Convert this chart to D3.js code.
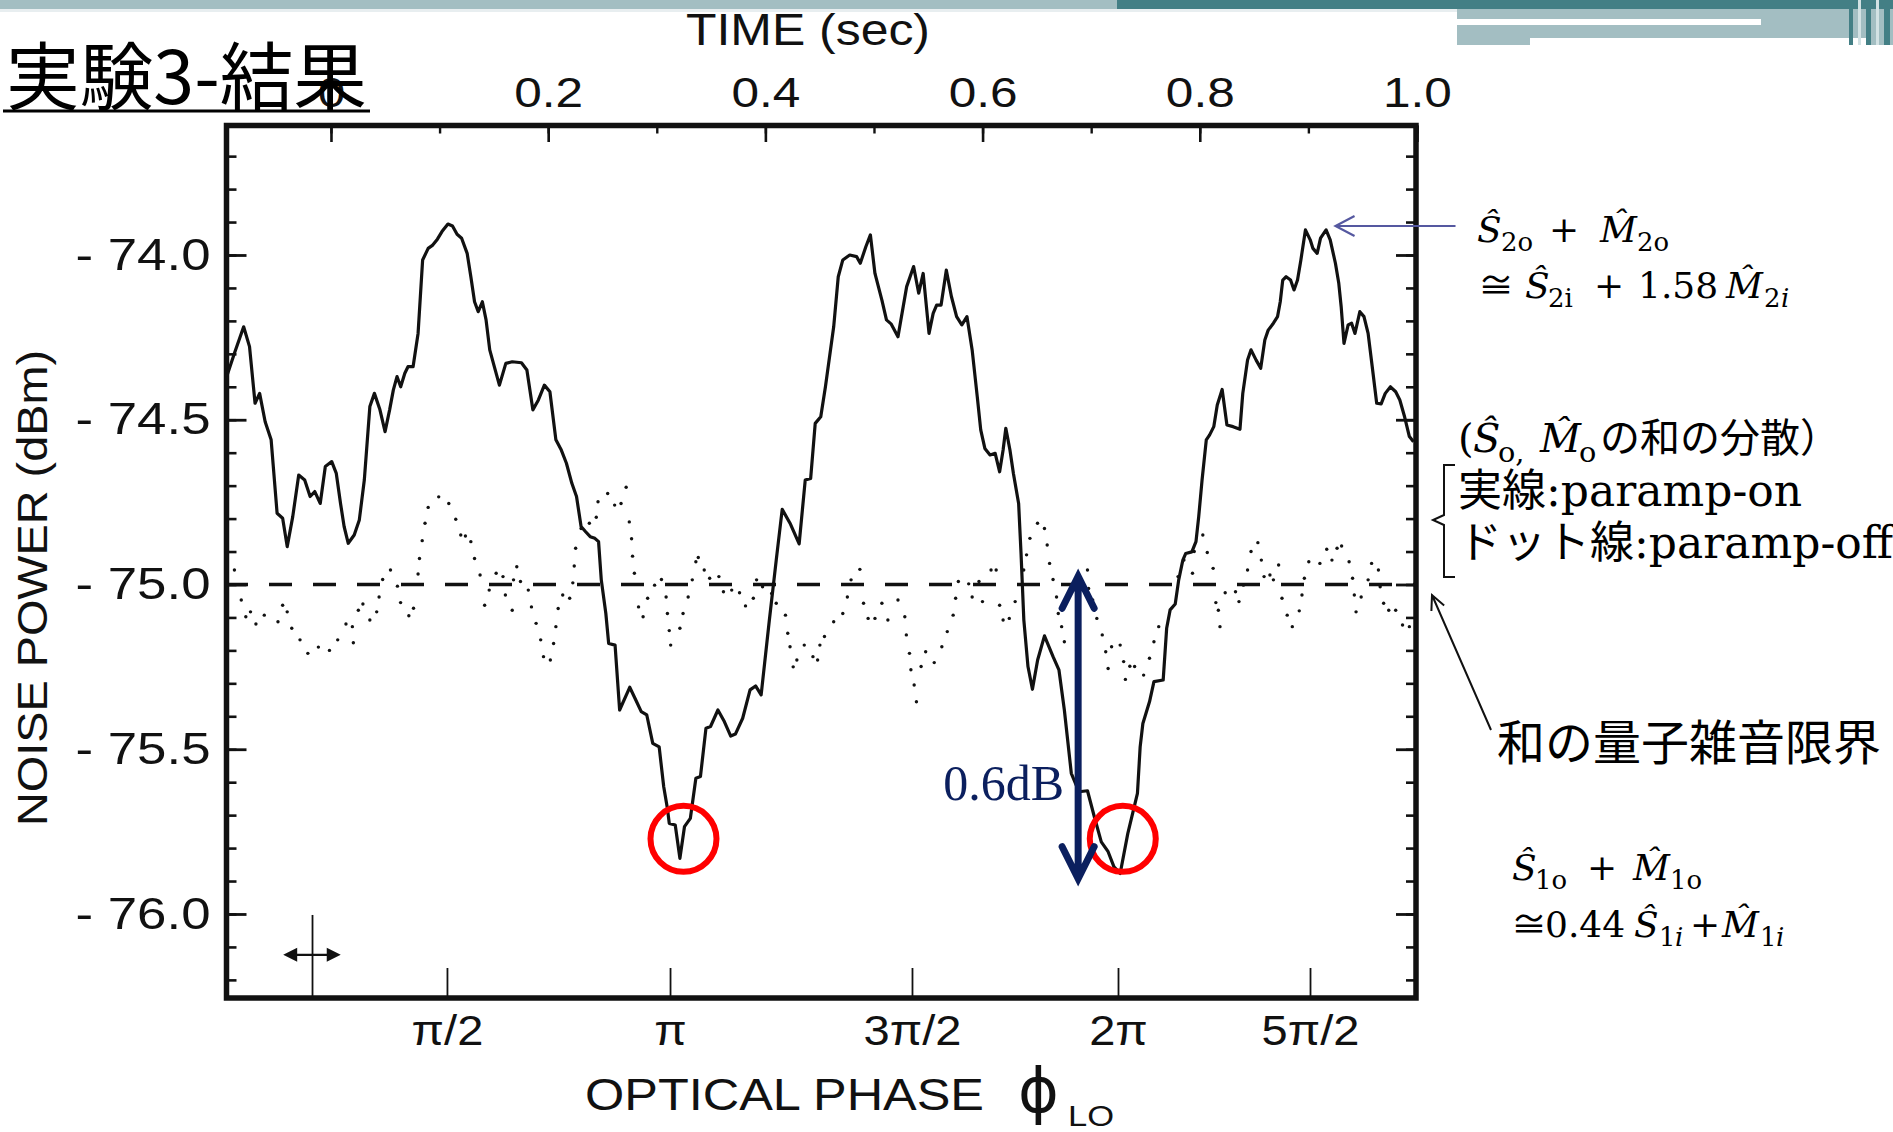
<!DOCTYPE html>
<html>
<head>
<meta charset="utf-8">
<script src="https://cdn.jsdelivr.net/npm/d3@7"></script>
<style>
html, body { margin: 0; padding: 0; background: #fff; overflow: hidden; }
svg { display: block; }
</style>
</head>
<body>
<div id="vizHolder"></div>
<script>
var width = 1893,
	height = 1132;

// ---- data ----
// TIME (sec) axis on top
var timeMajor = [0, 0.2, 0.4, 0.6, 0.8, 1.0];
var timeMinor = [0, 0.1, 0.2, 0.3, 0.4, 0.5, 0.6, 0.7, 0.8, 0.9, 1.0];
// NOISE POWER (dBm)
var powerMajor = [-76.0, -75.5, -75.0, -74.5, -74.0];
// OPTICAL PHASE axis at the bottom: label and the time where it falls
var phaseLabels = ['π/2', 'π', '3π/2', '2π', '5π/2'];
var phaseTickTime = [0.1068, 0.3122, 0.535, 0.7247, 0.9015];

// paramp-on (solid line)
var onTime = [-0.096,-0.0889,-0.0804,-0.0750,-0.0699,-0.0657,-0.0606,-0.0551,-0.0496,-0.0445,-0.0403,-0.0352,-0.0297,-0.0242,-0.0192,-0.0149,-0.0099,-0.0052,0.0007,0.0049,0.0088,0.0121,0.0159,0.0214,0.0261,0.0307,0.0358,0.0400,0.0451,0.0498,0.0540,0.0574,0.0608,0.0642,0.0680,0.0709,0.0756,0.0802,0.0844,0.0895,0.0937,0.0980,0.1022,0.1077,0.1119,0.1161,0.1203,0.1254,0.1288,0.1322,0.1356,0.1394,0.1428,0.1462,0.1504,0.1551,0.1610,0.1669,0.1754,0.1804,0.1859,0.1910,0.1965,0.2016,0.2071,0.2121,0.2168,0.2218,0.2261,0.2303,0.2345,0.2387,0.2430,0.2464,0.2489,0.2531,0.2557,0.2616,0.2658,0.2751,0.2810,0.2857,0.2908,0.2963,0.3022,0.3064,0.3098,0.3115,0.3170,0.3213,0.3255,0.3309,0.3360,0.3402,0.3453,0.3495,0.3563,0.3622,0.3681,0.3724,0.3791,0.3859,0.3910,0.3961,0.4037,0.4100,0.4155,0.4227,0.4311,0.4367,0.4417,0.4459,0.4510,0.4553,0.4629,0.4671,0.4713,0.4777,0.4840,0.4874,0.4925,0.4967,0.5009,0.5073,0.5115,0.5157,0.5221,0.5301,0.5365,0.5412,0.5453,0.5507,0.5545,0.5577,0.5618,0.5666,0.5713,0.5761,0.5809,0.5856,0.5904,0.5951,0.5983,0.6021,0.6069,0.6116,0.6157,0.6189,0.6214,0.6252,0.6284,0.6332,0.6354,0.6380,0.6418,0.6459,0.6507,0.6570,0.6649,0.6703,0.6753,0.6817,0.6887,0.6966,0.7029,0.7093,0.7156,0.7210,0.7267,0.7337,0.7426,0.7451,0.7476,0.7537,0.7578,0.7663,0.7695,0.7727,0.7774,0.7806,0.7844,0.7870,0.7927,0.7965,0.7990,0.8021,0.8060,0.8091,0.8129,0.8161,0.8206,0.8250,0.8307,0.8370,0.8396,0.8440,0.8472,0.8519,0.8561,0.8599,0.8630,0.8678,0.8716,0.8741,0.8764,0.8795,0.8836,0.8868,0.8900,0.8931,0.8973,0.9017,0.9042,0.9081,0.9112,0.9163,0.9201,0.9249,0.9280,0.9302,0.9328,0.9366,0.9398,0.9429,0.9474,0.9512,0.9550,0.9588,0.9629,0.9670,0.9708,0.9756,0.9804,0.9842,0.9886,0.9930,0.9968];
var onPower = [-74.369,-74.298,-74.218,-74.278,-74.450,-74.420,-74.506,-74.561,-74.784,-74.799,-74.885,-74.794,-74.668,-74.683,-74.733,-74.718,-74.754,-74.642,-74.627,-74.663,-74.754,-74.824,-74.875,-74.850,-74.804,-74.683,-74.460,-74.420,-74.470,-74.536,-74.470,-74.410,-74.369,-74.400,-74.359,-74.339,-74.339,-74.238,-74.015,-73.980,-73.970,-73.952,-73.929,-73.906,-73.912,-73.937,-73.949,-73.995,-74.066,-74.142,-74.172,-74.142,-74.197,-74.288,-74.339,-74.395,-74.329,-74.324,-74.327,-74.349,-74.470,-74.440,-74.395,-74.415,-74.561,-74.592,-74.632,-74.693,-74.733,-74.824,-74.840,-74.855,-74.860,-74.870,-74.986,-75.088,-75.179,-75.184,-75.381,-75.312,-75.353,-75.386,-75.396,-75.482,-75.493,-75.614,-75.680,-75.725,-75.730,-75.831,-75.735,-75.710,-75.588,-75.583,-75.436,-75.431,-75.381,-75.416,-75.460,-75.454,-75.406,-75.320,-75.308,-75.335,-75.107,-74.926,-74.772,-74.814,-74.877,-74.683,-74.678,-74.511,-74.491,-74.400,-74.218,-74.066,-74.015,-74.000,-74.005,-74.025,-73.975,-73.939,-74.056,-74.137,-74.197,-74.209,-74.248,-74.096,-74.035,-74.116,-74.056,-74.238,-74.177,-74.152,-74.152,-74.046,-74.126,-74.187,-74.212,-74.187,-74.288,-74.430,-74.531,-74.587,-74.607,-74.602,-74.658,-74.592,-74.526,-74.592,-74.663,-74.754,-74.905,-75.108,-75.249,-75.318,-75.229,-75.156,-75.219,-75.259,-75.381,-75.573,-75.629,-75.626,-75.705,-75.781,-75.811,-75.857,-75.877,-75.756,-75.634,-75.493,-75.422,-75.356,-75.295,-75.290,-75.133,-75.077,-75.059,-74.986,-74.926,-74.906,-74.901,-74.870,-74.795,-74.683,-74.561,-74.546,-74.521,-74.455,-74.408,-74.516,-74.521,-74.529,-74.420,-74.319,-74.288,-74.319,-74.344,-74.258,-74.228,-74.207,-74.187,-74.142,-74.076,-74.066,-74.076,-74.106,-74.076,-74.015,-73.924,-73.954,-73.980,-73.995,-73.949,-73.924,-73.954,-74.025,-74.086,-74.157,-74.268,-74.212,-74.207,-74.238,-74.172,-74.187,-74.238,-74.339,-74.450,-74.452,-74.420,-74.400,-74.415,-74.440,-74.491,-74.551,-74.567];

// paramp-off (dotted)
var offTime = [-0.0889,-0.0826,-0.0784,-0.0741,-0.0691,-0.0614,-0.0488,-0.0445,-0.0403,-0.0361,-0.0285,-0.0213,-0.0116,-0.0014,0.0062,0.0138,0.0197,0.0206,0.0252,0.0294,0.0358,0.0421,0.0443,0.0476,0.0548,0.0612,0.0641,0.0717,0.0760,0.0802,0.0815,0.0840,0.0866,0.0895,0.0992,0.1085,0.1149,0.1195,0.1238,0.1288,0.1322,0.1373,0.1415,0.1457,0.1521,0.1584,0.1606,0.1669,0.1681,0.1711,0.1745,0.1817,0.1846,0.1889,0.1931,0.1957,0.2020,0.2050,0.2071,0.2092,0.2134,0.2198,0.2227,0.2240,0.2253,0.2303,0.2379,0.2443,0.2459,0.2548,0.2612,0.2671,0.2718,0.2747,0.2768,0.2777,0.2794,0.2832,0.2874,0.2916,0.2980,0.3043,0.3086,0.3098,0.3115,0.3128,0.3213,0.3242,0.3289,0.3327,0.3360,0.3382,0.3437,0.3487,0.3572,0.3614,0.3690,0.3762,0.3817,0.3889,0.3919,0.3974,0.4058,0.4100,0.4185,0.4206,0.4227,0.4256,0.4290,0.4358,0.4438,0.4481,0.4502,0.4544,0.4629,0.4713,0.4755,0.4789,0.4870,0.4904,0.4946,0.5009,0.5073,0.5128,0.5221,0.5284,0.5298,0.5327,0.5340,0.5370,0.5391,0.5434,0.5476,0.5555,0.5625,0.5675,0.5729,0.5752,0.5777,0.5872,0.5904,0.5967,0.5999,0.6078,0.6125,0.6157,0.6189,0.6246,0.6300,0.6379,0.6405,0.6436,0.6506,0.6570,0.6595,0.6617,0.6649,0.6681,0.6697,0.6728,0.6753,0.6966,0.6976,0.7014,0.7052,0.7102,0.7134,0.7156,0.7188,0.7267,0.7299,0.7315,0.7356,0.7400,0.7483,0.7537,0.7578,0.7622,0.7800,0.7854,0.7933,0.7949,0.8028,0.8069,0.8123,0.8148,0.8171,0.8186,0.8234,0.8329,0.8361,0.8402,0.8440,0.8472,0.8535,0.8567,0.8592,0.8646,0.8678,0.8726,0.8757,0.8805,0.8852,0.8916,0.8941,0.8963,0.9004,0.9106,0.9169,0.9217,0.9264,0.9306,0.9375,0.9407,0.9423,0.9439,0.9486,0.9550,0.9582,0.9645,0.9661,0.9693,0.9740,0.9804,0.9867,0.9930];
var offPower = [-74.956,-75.047,-75.098,-75.083,-75.120,-75.093,-75.113,-75.063,-75.083,-75.133,-75.168,-75.209,-75.190,-75.200,-75.168,-75.120,-75.128,-75.177,-75.078,-75.059,-75.108,-75.083,-75.038,-74.985,-74.956,-75.005,-75.055,-75.095,-75.072,-74.968,-74.921,-74.867,-74.814,-74.766,-74.734,-74.754,-74.802,-74.850,-74.853,-74.870,-74.921,-74.971,-75.063,-75.017,-74.966,-74.976,-75.032,-75.078,-74.986,-74.946,-74.991,-75.017,-75.068,-75.118,-75.168,-75.219,-75.229,-75.179,-75.128,-75.073,-75.032,-75.042,-74.995,-74.944,-74.890,-74.830,-74.814,-74.796,-74.749,-74.724,-74.759,-74.754,-74.705,-74.810,-74.861,-74.914,-74.966,-75.068,-75.098,-75.042,-75.002,-74.985,-75.038,-75.088,-75.140,-75.184,-75.133,-75.088,-75.038,-74.986,-74.931,-74.918,-74.956,-74.981,-74.976,-75.022,-75.017,-75.025,-75.065,-75.042,-74.986,-75.007,-75.027,-75.057,-75.093,-75.148,-75.189,-75.250,-75.229,-75.184,-75.219,-75.229,-75.184,-75.158,-75.113,-75.088,-75.038,-74.986,-74.954,-75.057,-75.103,-75.103,-75.057,-75.108,-75.047,-75.098,-75.153,-75.209,-75.259,-75.305,-75.356,-75.249,-75.204,-75.237,-75.189,-75.143,-75.093,-75.042,-74.991,-74.998,-75.038,-74.991,-75.052,-74.956,-74.956,-75.063,-75.108,-75.103,-75.052,-74.956,-74.910,-74.860,-74.814,-74.830,-74.880,-74.936,-74.985,-75.038,-75.088,-75.128,-75.174,-74.956,-75.012,-75.047,-75.103,-75.153,-75.204,-75.255,-75.189,-75.184,-75.234,-75.288,-75.248,-75.249,-75.275,-75.224,-75.174,-75.128,-74.976,-74.926,-74.966,-74.900,-74.850,-74.903,-74.951,-75.055,-75.078,-75.128,-75.025,-75.022,-75.052,-75.002,-74.956,-74.900,-74.873,-74.926,-74.976,-74.971,-74.986,-74.941,-75.042,-75.093,-75.128,-75.080,-75.032,-74.981,-74.931,-74.936,-74.893,-74.926,-74.890,-74.883,-74.931,-74.981,-75.032,-75.083,-75.038,-74.986,-74.936,-74.956,-75.007,-75.057,-75.078,-75.078,-75.123,-75.128];

// quantum noise limit of the sum (dashed line)
var quantumLimit = -75.0;
// circled minima and the 0.6 dB arrow
var minimaTime = [0.3246, 0.7291];
var minimaPower = [-75.772, -75.772];
var arrowTime = 0.688;
var arrowPower = [-74.975, -75.893];
var arrowLabel = '0.6dB';
// scale marker in the lower left corner
var markerTime = [-0.044, -0.017, 0.009];
var markerPower = [-76.003, -76.124];

// ---- drawing ----
var plot = { left: 226.5, top: 125.5, right: 1416, bottom: 998 };
var ink = '#111';
var navy = '#0b1f5e';
var sansFont = '"Liberation Sans", Arial, sans-serif';
var serifFont = '"DejaVu Serif", "Noto Sans CJK JP", serif';

var xScale = d3.scaleLinear()
	.domain([-0.0962, 0.9991])
	.range([plot.left, plot.right]);

var yScale = d3.scaleLinear()
	.domain([-76.255, -73.607])
	.range([plot.bottom, plot.top]);

var svg = d3.select('#vizHolder')
	.append('svg')
	.attr('width', width)
	.attr('height', height);

// slide header band
var band = [
	{ x: 0, y: 0, w: 1117, h: 9, c: '#a3bec2' },
	{ x: 0, y: 9, w: 1457, h: 3, c: '#e8eef0' },
	{ x: 1117, y: 0, w: 776, h: 9, c: '#437f85' },
	{ x: 1457, y: 9, w: 436, h: 36, c: '#a3bec2' },
	{ x: 1457, y: 19, w: 304, h: 6, c: '#ffffff' },
	{ x: 1530, y: 38, w: 338, h: 8, c: '#ffffff' },
	{ x: 1849, y: 0, w: 4, h: 45, c: '#437f85' },
	{ x: 1858, y: 0, w: 3, h: 45, c: '#d3e2e4' },
	{ x: 1866, y: 0, w: 5, h: 45, c: '#437f85' },
	{ x: 1876, y: 0, w: 3, h: 45, c: '#d3e2e4' },
	{ x: 1884, y: 0, w: 6, h: 45, c: '#437f85' }
];
svg.append('g').selectAll('rect')
	.data(band)
	.enter()
	.append('rect')
	.attr('x', function(d) { return d.x; })
	.attr('y', function(d) { return d.y; })
	.attr('width', function(d) { return d.w; })
	.attr('height', function(d) { return d.h; })
	.attr('fill', function(d) { return d.c; });

function widen(sel, f) {
	sel.each(function() {
		var len = this.getComputedTextLength();
		d3.select(this).attr('textLength', len * f).attr('lengthAdjust', 'spacingAndGlyphs');
	});
}

function styleAxis(g, sw) {
	g.select('.domain').remove();
	g.selectAll('line').attr('stroke', ink).attr('stroke-width', sw);
	g.selectAll('text')
		.attr('fill', ink)
		.style('font-family', sansFont)
		.style('font-size', '42px');
}

// ticks only, no labels
function bareAxis(g, sw) {
	g.select('.domain').remove();
	g.selectAll('text').remove();
	g.selectAll('line').attr('stroke', ink).attr('stroke-width', sw);
}

// top: TIME (sec)
var topMinor = svg.append('g')
	.attr('transform', 'translate(0,' + plot.top + ')')
	.call(d3.axisTop(xScale).tickValues(timeMinor).tickSize(-8));
bareAxis(topMinor, 2.4);

var topMajor = svg.append('g')
	.attr('transform', 'translate(0,' + plot.top + ')')
	.call(d3.axisTop(xScale).tickValues(timeMajor).tickSize(-16.5).tickPadding(18.5)
		.tickFormat(function(d) { return d === 0 ? '0' : d3.format('.1f')(d); }));
styleAxis(topMajor, 2.6);
widen(topMajor.selectAll('text'), 1.18);

// left / right: NOISE POWER
var powerMinor = d3.range(-762, -736).map(function(d) { return d / 10; });

var leftMinor = svg.append('g')
	.attr('transform', 'translate(' + plot.left + ',0)')
	.call(d3.axisLeft(yScale).tickValues(powerMinor).tickSize(-10));
bareAxis(leftMinor, 2.6);

var leftMajor = svg.append('g')
	.attr('transform', 'translate(' + plot.left + ',0)')
	.call(d3.axisLeft(yScale).tickValues(powerMajor).tickSize(-20).tickPadding(16)
		.tickFormat(function(d) { return '- ' + Math.abs(d).toFixed(1); }));
styleAxis(leftMajor, 2.8);
leftMajor.selectAll('text').style('font-size', '44px');
widen(leftMajor.selectAll('text'), 1.2);

var rightMinor = svg.append('g')
	.attr('transform', 'translate(' + plot.right + ',0)')
	.call(d3.axisRight(yScale).tickValues(powerMinor).tickSize(-10));
bareAxis(rightMinor, 2.6);

var rightMajor = svg.append('g')
	.attr('transform', 'translate(' + plot.right + ',0)')
	.call(d3.axisRight(yScale).tickValues(powerMajor).tickSize(-20));
bareAxis(rightMajor, 2.8);

// bottom: OPTICAL PHASE
var bottomAxis = svg.append('g')
	.attr('transform', 'translate(0,' + plot.bottom + ')')
	.call(d3.axisBottom(xScale).tickValues(phaseTickTime).tickSize(-30).tickPadding(17)
		.tickFormat(function(d, i) { return phaseLabels[i]; }));
styleAxis(bottomAxis, 1.8);
widen(bottomAxis.selectAll('text'), 1.12);

// frame
svg.append('rect')
	.attr('x', plot.left)
	.attr('y', plot.top)
	.attr('width', plot.right - plot.left)
	.attr('height', plot.bottom - plot.top)
	.attr('fill', 'none')
	.attr('stroke', ink)
	.attr('stroke-width', 5.5);

// axis titles
svg.append('text')
	.attr('x', 686)
	.attr('y', 45)
	.attr('textLength', 244)
	.attr('lengthAdjust', 'spacingAndGlyphs')
	.style('font-family', sansFont)
	.style('font-size', '44px')
	.attr('fill', ink)
	.text('TIME (sec)');

svg.append('text')
	.attr('transform', 'translate(47,588) rotate(-90)')
	.attr('text-anchor', 'middle')
	.attr('textLength', 476)
	.attr('lengthAdjust', 'spacingAndGlyphs')
	.style('font-family', sansFont)
	.style('font-size', '42px')
	.attr('fill', ink)
	.text('NOISE POWER (dBm)');

svg.append('text')
	.attr('x', 585)
	.attr('y', 1110)
	.attr('textLength', 399)
	.attr('lengthAdjust', 'spacingAndGlyphs')
	.style('font-family', sansFont)
	.style('font-size', '44px')
	.attr('fill', ink)
	.text('OPTICAL PHASE');

svg.append('text')
	.attr('x', 1018)
	.attr('y', 1112)
	.style('font-family', '"DejaVu Sans", sans-serif')
	.style('font-size', '62px')
	.attr('fill', ink)
	.text('ϕ');

svg.append('text')
	.attr('x', 1068)
	.attr('y', 1126)
	.attr('textLength', 46)
	.attr('lengthAdjust', 'spacingAndGlyphs')
	.style('font-family', sansFont)
	.style('font-size', '29px')
	.attr('fill', ink)
	.text('LO');

// quantum limit (dashed)
var line = d3.line()
	.x(function(d) { return xScale(d[0]); })
	.y(function(d) { return yScale(d[1]); });

svg.append('path')
	.attr('d', line([[xScale.domain()[0], quantumLimit], [xScale.domain()[1], quantumLimit]]))
	.attr('fill', 'none')
	.attr('stroke', ink)
	.attr('stroke-width', 3.4)
	.attr('stroke-dasharray', '23 21')
	.attr('stroke-dashoffset', 1.5);

// paramp-off dots
var offData = offTime.map(function(t, i) { return [t, offPower[i]]; });
svg.append('g').selectAll('circle')
	.data(offData)
	.enter()
	.append('circle')
	.attr('cx', function(d) { return xScale(d[0]); })
	.attr('cy', function(d) { return yScale(d[1]); })
	.attr('r', 1.7)
	.attr('fill', ink);

// paramp-on solid trace
var onData = onTime.map(function(t, i) { return [t, onPower[i]]; });
svg.append('path')
	.attr('d', line(onData))
	.attr('fill', 'none')
	.attr('stroke', ink)
	.attr('stroke-width', 3.2)
	.attr('stroke-linejoin', 'round');

// scale marker (lower left)
var mx = xScale(markerTime[1]);
svg.append('line')
	.attr('x1', mx).attr('x2', mx)
	.attr('y1', yScale(markerPower[0])).attr('y2', plot.bottom)
	.attr('stroke', ink).attr('stroke-width', 1.8);
var my = yScale(markerPower[1]),
	ml = xScale(markerTime[0]),
	mr = xScale(markerTime[2]);
svg.append('line')
	.attr('x1', ml + 8).attr('x2', mr - 8)
	.attr('y1', my).attr('y2', my)
	.attr('stroke', ink).attr('stroke-width', 2.4);
svg.append('path')
	.attr('d', 'M' + ml + ',' + my + 'L' + (ml + 14) + ',' + (my - 7) + 'L' + (ml + 14) + ',' + (my + 7) + 'Z' +
		'M' + mr + ',' + my + 'L' + (mr - 14) + ',' + (my - 7) + 'L' + (mr - 14) + ',' + (my + 7) + 'Z')
	.attr('fill', ink);

// red circles on the minima
svg.append('g').selectAll('circle')
	.data(minimaTime)
	.enter()
	.append('circle')
	.attr('cx', function(d) { return xScale(d); })
	.attr('cy', function(d, i) { return yScale(minimaPower[i]); })
	.attr('r', 33)
	.attr('fill', 'none')
	.attr('stroke', '#ff0000')
	.attr('stroke-width', 6);

// 0.6 dB double arrow
var ax = xScale(arrowTime),
	ayTop = yScale(arrowPower[0]),
	ayBot = yScale(arrowPower[1]);
svg.append('path')
	.attr('d', 'M' + ax + ',' + (ayTop + 4) + 'L' + ax + ',' + (ayBot - 4) +
		'M' + (ax - 16) + ',' + (ayTop + 32) + 'L' + ax + ',' + ayTop + 'L' + (ax + 16) + ',' + (ayTop + 32) +
		'M' + (ax - 16) + ',' + (ayBot - 32) + 'L' + ax + ',' + ayBot + 'L' + (ax + 16) + ',' + (ayBot - 32))
	.attr('fill', 'none')
	.attr('stroke', navy)
	.attr('stroke-width', 7)
	.attr('stroke-linecap', 'round')
	.attr('stroke-linejoin', 'miter');

svg.append('text')
	.attr('x', ax - 14)
	.attr('y', (ayTop + ayBot) / 2 + 73)
	.attr('text-anchor', 'end')
	.style('font-family', '"Liberation Serif", serif')
	.style('font-size', '50px')
	.attr('fill', navy)
	.text(arrowLabel);

// pointer to the paramp-on peak
var px = xScale(0.925), py = yScale(-73.912);
svg.append('path')
	.attr('d', 'M' + px + ',' + py + 'L' + (px + 120) + ',' + py +
		'M' + (px + 19) + ',' + (py - 10) + 'L' + px + ',' + py + 'L' + (px + 19) + ',' + (py + 10))
	.attr('fill', 'none')
	.attr('stroke', '#5558a0')
	.attr('stroke-width', 2.2);

// pointer to the quantum limit
var tipX = 1432, tipY = 595, tailX = 1491, tailY = 730;
var ang = Math.atan2(tailY - tipY, tailX - tipX);
function wing(a) { return [tipX + 16 * Math.cos(ang + a), tipY + 16 * Math.sin(ang + a)]; }
var w1 = wing(0.45), w2 = wing(-0.45);
svg.append('path')
	.attr('d', 'M' + tailX + ',' + tailY + 'L' + tipX + ',' + tipY +
		'M' + w1[0] + ',' + w1[1] + 'L' + tipX + ',' + tipY + 'L' + w2[0] + ',' + w2[1])
	.attr('fill', 'none')
	.attr('stroke', ink)
	.attr('stroke-width', 2);

// bracket for the legend lines
svg.append('path')
	.attr('d', 'M1455,465L1444,465L1444,515L1433,520L1444,525L1444,577L1455,577')
	.attr('fill', 'none')
	.attr('stroke', ink)
	.attr('stroke-width', 2);

// rich text helper: pieces placed at their own x
function richText(baseY, size, pieces) {
	var t = svg.append('text')
		.style('font-family', serifFont)
		.style('font-size', size + 'px')
		.attr('fill', '#000');
	pieces.forEach(function(p) {
		var s = t.append('tspan')
			.attr('x', p.x)
			.attr('y', baseY + (p.sub ? size * 0.24 : 0))
			.text(p.t);
		if (p.sub) s.style('font-size', (size * 0.72) + 'px');
		if (p.it) s.style('font-style', 'italic');
	});
	return t;
}

var hatS = 'Ŝ', hatM = 'M\u0302';

richText(242, 36, [
	{ t: hatS, x: 1477, it: 1 }, { t: '2o', x: 1501, sub: 1 }, { t: '+', x: 1549 },
	{ t: hatM, x: 1600, it: 1 }, { t: '2o', x: 1637, sub: 1 }
]);
richText(298, 36, [
	{ t: '≅', x: 1478 }, { t: hatS, x: 1525, it: 1 }, { t: '2i', x: 1548, sub: 1 },
	{ t: '+', x: 1594 }, { t: '1.58', x: 1638 }, { t: hatM, x: 1726, it: 1 },
	{ t: '2', x: 1764, sub: 1 }, { t: 'i', x: 1781, sub: 1, it: 1 }
]);
richText(452, 40, [
	{ t: '(', x: 1458 }, { t: hatS, x: 1473, it: 1 }, { t: 'o,', x: 1498, sub: 1 },
	{ t: hatM, x: 1540, it: 1 }, { t: 'o', x: 1579, sub: 1 }, { t: 'の和の分散）', x: 1600 }
]);
richText(506, 44, [{ t: '実線:paramp-on', x: 1458 }]);
richText(558, 44, [{ t: 'ドット線:paramp-off', x: 1458 }]);
richText(760, 48, [{ t: '和の量子雑音限界', x: 1497 }]);
richText(880, 36, [
	{ t: hatS, x: 1512, it: 1 }, { t: '1o', x: 1535, sub: 1 }, { t: '+', x: 1587 },
	{ t: hatM, x: 1633, it: 1 }, { t: '1o', x: 1670, sub: 1 }
]);
richText(937, 36, [
	{ t: '≅', x: 1511 }, { t: '0.44', x: 1545 }, { t: hatS, x: 1634, it: 1 },
	{ t: '1', x: 1659, sub: 1 }, { t: 'i', x: 1675, sub: 1, it: 1 }, { t: '+', x: 1690 },
	{ t: hatM, x: 1722, it: 1 }, { t: '1', x: 1760, sub: 1 }, { t: 'i', x: 1776, sub: 1, it: 1 }
]);

// slide title (the "0" time label shows through it, as in the slide)
svg.append('text')
	.attr('x', 6)
	.attr('y', 104)
	.attr('textLength', 361)
	.attr('lengthAdjust', 'spacingAndGlyphs')
	.style('font-family', '"Noto Sans CJK JP", sans-serif')
	.style('font-size', '74px')
	.attr('fill', '#000')
	.text('実験3-結果');
svg.append('line')
	.attr('x1', 3).attr('x2', 370)
	.attr('y1', 111).attr('y2', 111)
	.attr('stroke', '#000')
	.attr('stroke-width', 3);
</script>
</body>
</html>
